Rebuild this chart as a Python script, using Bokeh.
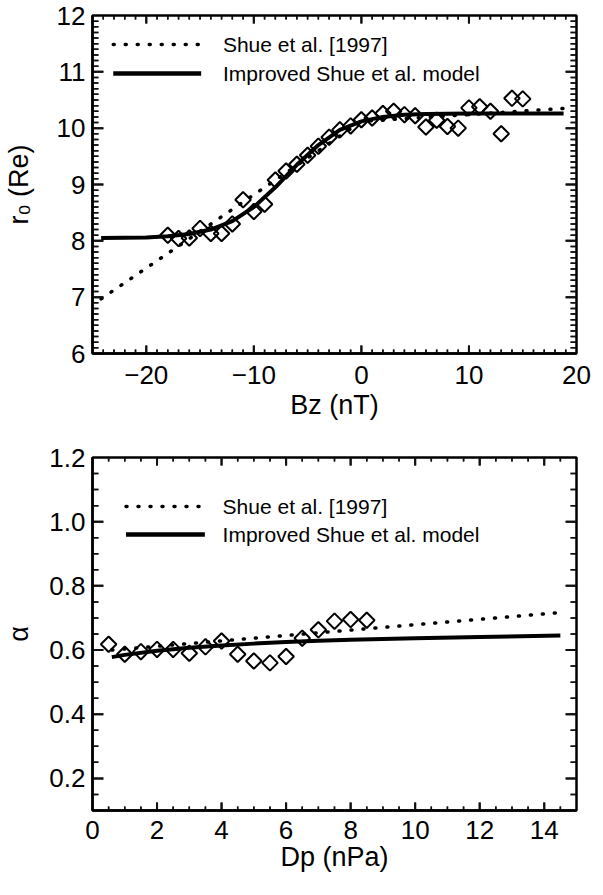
import numpy as np
from bokeh.plotting import figure
from bokeh.layouts import column
from bokeh.models import FixedTicker, Range1d, PrintfTickFormatter
from bokeh.core.properties import value
from bokeh.embed import file_html
from bokeh.resources import INLINE

FONT = "Liberation Sans"

# ---------------- data: top panel (r0 vs Bz) ----------------
bz_obs = [-18, -17, -16, -15, -14, -13, -12, -11, -10, -9, -8, -7, -6, -5, -4, -3, -2, -1,
          0, 1, 2, 3, 4, 5, 6, 7, 8, 9, 10, 11, 12, 13, 14, 15]
r0_obs = [8.10, 8.04, 8.05, 8.22, 8.13, 8.13, 8.30, 8.73, 8.52, 8.65, 9.08, 9.24, 9.36, 9.52,
          9.68, 9.84, 9.97, 10.04, 10.15, 10.18, 10.26, 10.30, 10.24, 10.22, 10.02, 10.14,
          10.03, 10.00, 10.36, 10.38, 10.30, 9.90, 10.53, 10.52]
bz_shue97 = [-24.2, 0.0, 18.8]
r0_shue97 = [6.97, 10.12, 10.35]
bz_improved = [-24.2, -20, -18, -16, -14, -12, -10, -8, -6, -4, -2, 0, 2, 4, 6, 10, 18.8]
r0_improved = [8.05, 8.06, 8.08, 8.12, 8.20, 8.35, 8.60, 8.95, 9.35, 9.70, 9.97, 10.12,
               10.20, 10.24, 10.25, 10.26, 10.26]

# tick values, top panel
bz_range = (-25, 20)
r0_range = (6, 12)
bz_labels = [-20, -10, 0, 10, 20]
r0_labels = [6, 7, 8, 9, 10, 11, 12]
bz_major = [-20, -10, 0, 10]
bz_minor = [v for v in range(-24, 20) if v % 10 != 0]
r0_major = [7, 8, 9, 10, 11]
r0_minor = [round(6 + 0.1 * i, 2) for i in range(1, 60) if i % 10 != 0]

# ---------------- data: bottom panel (alpha vs Dp) ----------------
dp_obs = [0.5, 1.0, 1.5, 2.0, 2.5, 3.0, 3.5, 4.0, 4.5, 5.0, 5.5, 6.0, 6.5, 7.0, 7.5, 8.0, 8.5]
alpha_obs = [0.618, 0.587, 0.595, 0.602, 0.602, 0.590, 0.610, 0.628, 0.587, 0.566, 0.560,
             0.580, 0.637, 0.663, 0.690, 0.695, 0.693]
dp_shue97 = [0.6, 14.5]
alpha_shue97 = [0.600, 0.717]
dp_improved = [0.6, 1, 2, 3, 4, 5, 6, 7, 8, 10, 12, 14.5]
alpha_improved = [0.578, 0.585, 0.598, 0.607, 0.614, 0.620, 0.625, 0.629, 0.632, 0.637,
                  0.641, 0.645]

# tick values, bottom panel
dp_range = (0, 15)
alpha_range = (0.1, 1.2)
dp_labels = [0, 2, 4, 6, 8, 10, 12, 14]
alpha_labels = [0.2, 0.4, 0.6, 0.8, 1.0, 1.2]
dp_major = [2, 4, 6, 8, 10, 12, 14]
dp_minor = [round(0.5 * i, 2) for i in range(1, 30) if i % 4 != 0]
alpha_major = [0.2, 0.4, 0.6, 0.8, 1.0]
alpha_minor = [round(0.1 + 0.05 * i, 3) for i in range(1, 22) if (i + 2) % 4 != 0]

LEG1 = "Shue et al. [1997]"
LEG2 = "Improved Shue et al. model"

FIG_W = 595
BORDER_R = 19
TICK = "#111111"
DOT = dict(line_color="black", line_width=3.5, line_dash="1 11", line_cap="round")
SOLID = dict(line_color="black", line_width=4)


def style_axis(ax, ticks):
    ax.ticker = FixedTicker(ticks=ticks, minor_ticks=[])
    ax.axis_line_width = 2.5
    ax.axis_line_color = "black"
    ax.major_tick_in = 0
    ax.major_tick_out = 0
    ax.minor_tick_in = 0
    ax.minor_tick_out = 0
    ax.major_label_text_font = FONT
    ax.major_label_text_font_size = "26px"
    ax.major_label_text_color = "black"
    ax.axis_label_text_font = FONT
    ax.axis_label_text_font_size = "27px"
    ax.axis_label_text_font_style = "normal"
    ax.axis_label_text_color = "black"


class Panel:
    def __init__(self, xr, yr, xlab, ylab, height, left, top, bottom, xlabel, ylabel,
                 yfmt=None, xstand=12, ystand=7, ylabstand=20, xlabstand=3):
        self.xr, self.yr = xr, yr
        self.fw = FIG_W - left - BORDER_R
        self.fh = height - top - bottom
        self.kx = (xr[1] - xr[0]) / self.fw   # data units per pixel
        self.ky = (yr[1] - yr[0]) / self.fh
        p = figure(width=FIG_W, height=height, x_range=Range1d(*xr), y_range=Range1d(*yr),
                   output_backend="svg", toolbar_location=None,
                   min_border_left=left, min_border_right=BORDER_R, min_border_top=top,
                   min_border_bottom=bottom)
        p.xgrid.visible = False
        p.ygrid.visible = False
        p.outline_line_color = "black"
        p.outline_line_width = 2.5
        xa = p.xaxis[0]
        ya = p.yaxis[0]
        style_axis(xa, xlab)
        style_axis(ya, ylab)
        xa.axis_label = xlabel
        ya.axis_label = ylabel
        xa.major_label_standoff = xstand
        ya.major_label_standoff = ystand
        xa.axis_label_standoff = xlabstand
        ya.axis_label_standoff = ylabstand
        if yfmt is not None:
            ya.formatter = PrintfTickFormatter(format=yfmt)
        self.p = p

    def px(self, dx, dy):
        """pixel offset from the frame's top-left corner -> data coordinates"""
        return self.xr[0] + dx * self.kx, self.yr[1] - dy * self.ky

    def ticks(self, xmaj, xmin, ymaj, ymin):
        """inward ticks on all four edges, as small filled bars (plus stroked segments)"""
        p, xr, yr, kx, ky = self.p, self.xr, self.yr, self.kx, self.ky

        def hticks(xs, length, width):
            xs = np.asarray(xs, dtype=float)
            n = len(xs)
            hw = width / 2 * kx
            L = length * ky
            p.quad(left=xs - hw, right=xs + hw, bottom=[yr[0]] * n, top=[yr[0] + L] * n,
                   fill_color=TICK, line_color=None)
            p.quad(left=xs - hw, right=xs + hw, bottom=[yr[1] - L] * n, top=[yr[1]] * n,
                   fill_color=TICK, line_color=None)
            p.segment(x0=xs, y0=[yr[0]] * n, x1=xs, y1=[yr[0] + L] * n,
                      line_color=TICK, line_width=width)
            p.segment(x0=xs, y0=[yr[1]] * n, x1=xs, y1=[yr[1] - L] * n,
                      line_color=TICK, line_width=width)

        def vticks(ys, length, width):
            ys = np.asarray(ys, dtype=float)
            n = len(ys)
            hw = width / 2 * ky
            L = length * kx
            p.quad(left=[xr[0]] * n, right=[xr[0] + L] * n, bottom=ys - hw, top=ys + hw,
                   fill_color=TICK, line_color=None)
            p.quad(left=[xr[1] - L] * n, right=[xr[1]] * n, bottom=ys - hw, top=ys + hw,
                   fill_color=TICK, line_color=None)
            p.segment(x0=[xr[0]] * n, y0=ys, x1=[xr[0] + L] * n, y1=ys,
                      line_color=TICK, line_width=width)
            p.segment(x0=[xr[1]] * n, y0=ys, x1=[xr[1] - L] * n, y1=ys,
                      line_color=TICK, line_width=width)

        hticks(xmaj, 8, 2)
        hticks(xmin, 4, 1.5)
        vticks(ymaj, 11, 2)
        vticks(ymin, 6, 1.5)

    def key(self, sx0, sx1, row1, row2, tx):
        """legend key drawn with plain glyphs; offsets in pixels from frame top-left"""
        p = self.p
        xa, ya1 = self.px(sx0, row1)
        xb, _ = self.px(sx1, row1)
        _, ya2 = self.px(sx0, row2)
        p.line([xa, xb], [ya1, ya1], **DOT)
        p.line([xa, xb], [ya2, ya2], line_color="black", line_width=4.5)
        xt, _ = self.px(tx, row1)
        p.text(x=[xt, xt], y=[ya1, ya2], text=[LEG1, LEG2], text_font=value(FONT),
               text_font_size="21px", text_baseline="alphabetic", text_align="left",
               text_color="black")


# ---------------- top panel ----------------
top = Panel(bz_range, r0_range, bz_labels, r0_labels, 427, 86, 15, 74,
            "Bz (nT)", "r\u2080 (Re)")
top.p.line(bz_shue97, r0_shue97, **DOT)
top.p.line(bz_improved, r0_improved, **SOLID)
top.p.scatter(bz_obs, r0_obs, marker="square", angle=np.pi / 4, size=11,
              fill_color=None, line_color="black", line_width=2)
top.key(21, 110, 29, 58, 132)
top.ticks(bz_major, bz_minor, r0_major, r0_minor)

# ---------------- bottom panel ----------------
bot = Panel(dp_range, alpha_range, dp_labels, alpha_labels, 452, 85, 30, 69,
            "Dp (nPa)", "\u03b1", yfmt="%.1f", xstand=10, ystand=7, ylabstand=12,
            xlabstand=0)
bot.p.line(dp_shue97, alpha_shue97, **DOT)
bot.p.line(dp_improved, alpha_improved, **SOLID)
bot.p.scatter(dp_obs, alpha_obs, marker="square", angle=np.pi / 4, size=11,
              fill_color=None, line_color="black", line_width=2)
bot.key(34, 114, 49, 77, 132)
bot.ticks(dp_major, dp_minor, alpha_major, alpha_minor)

layout = column(top.p, bot.p, spacing=0)
open("out.html", "w").write(file_html(layout, INLINE))
